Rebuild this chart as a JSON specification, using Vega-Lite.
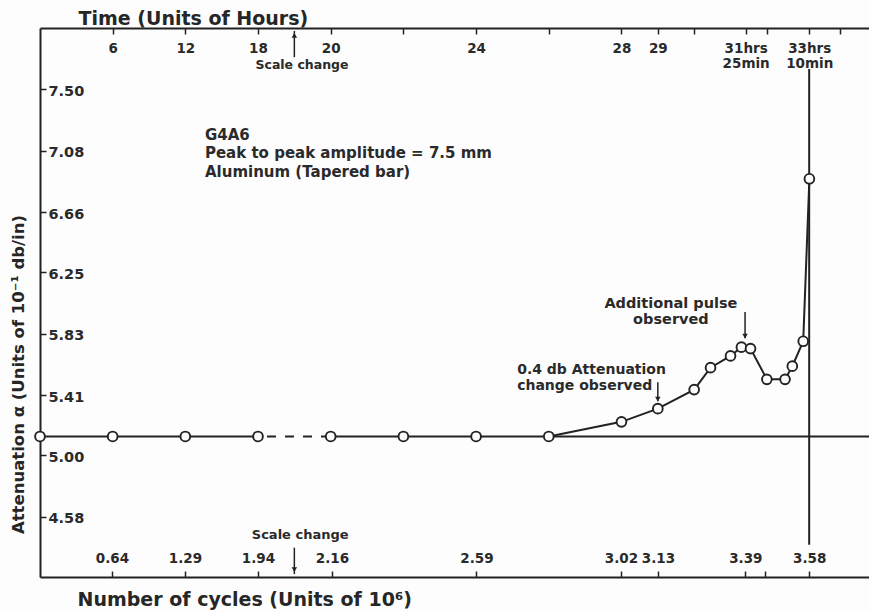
{
  "$schema": "https://vega.github.io/schema/vega-lite/v6.json",
  "width": 829,
  "height": 549,
  "autosize": {"type": "none"},
  "padding": {"left": 40, "top": 28, "right": 0, "bottom": 34},
  "background": "#fdfdfd",
  "config": {
    "view": {"stroke": null},
    "font": "DejaVu Sans",
    "axis": {
      "domainColor": "#222",
      "domainWidth": 2,
      "tickColor": "#222",
      "tickWidth": 1.5,
      "tickSize": -6,
      "labelColor": "#2a2a2a",
      "labelFont": "DejaVu Sans",
      "labelFontWeight": "bold",
      "labelFontSize": 14.5,
      "labelOverlap": false,
      "labelFlush": false,
      "labelBound": false,
      "grid": false,
      "titleColor": "#262626",
      "titleFont": "DejaVu Sans",
      "titleFontWeight": "bold"
    },
    "text": {"font": "DejaVu Sans", "fontWeight": "bold", "color": "#2a2a2a"}
  },
  "datasets": {
    "readings": [
      {"hours": 0, "att": 5.13},
      {"hours": 6, "att": 5.13},
      {"hours": 12, "att": 5.13},
      {"hours": 18, "att": 5.13},
      {"hours": 20, "att": 5.13},
      {"hours": 22, "att": 5.13},
      {"hours": 24, "att": 5.13},
      {"hours": 26, "att": 5.13},
      {"hours": 28, "att": 5.23},
      {"hours": 29, "att": 5.32},
      {"hours": 30, "att": 5.45},
      {"hours": 30.45, "att": 5.6},
      {"hours": 31.0, "att": 5.68},
      {"hours": 31.3, "att": 5.74},
      {"hours": 31.55, "att": 5.73},
      {"hours": 32.0, "att": 5.52},
      {"hours": 32.5, "att": 5.52},
      {"hours": 32.7, "att": 5.61},
      {"hours": 33.0, "att": 5.78},
      {"hours": 33.17, "att": 6.89}
    ]
  },
  "layer": [
    {
      "description": "Failure marker and the cycles axis (broken scale, same break as the time axis)",
      "data": {"values": [{}]},
      "mark": {"type": "rule", "color": "#222", "strokeWidth": 2},
      "encoding": {
        "x": {
          "datum": 3.58,
          "type": "quantitative",
          "scale": {"domain": [0, 1.94, 3.758], "range": [0, 218, 829], "nice": false, "zero": false},
          "axis": {
            "orient": "bottom",
            "values": [0.64, 1.29, 1.94, 2.16, 2.59, 3.02, 3.13, 3.39, 3.45, 3.58],
            "labelExpr": "datum.value == 3.45 ? '' : format(datum.value, '.2f')",
            "labelPadding": -13,
            "labelBaseline": "middle",
            "labelFontSize": 13.5,
            "title": "Number of cycles (Units of 10⁶)",
            "titleFontSize": 19,
            "titleAnchor": "start",
            "titleAlign": "left",
            "titleBaseline": "alphabetic",
            "titleX": 37,
            "titleY": 28
          }
        },
        "y": {"datum": 7.64, "type": "quantitative"},
        "y2": {"datum": 4.39}
      }
    },
    {
      "layer": [
        {
          "data": {"name": "readings"},
          "transform": [{"filter": "datum.hours <= 18"}],
          "mark": {"type": "line", "color": "#222", "strokeWidth": 2},
          "encoding": {
            "x": {
              "field": "hours",
              "type": "quantitative",
              "scale": {"domain": [0, 18, 34.81], "range": [0, 218, 829], "nice": false, "zero": false},
              "axis": {
                "orient": "top",
                "values": [6, 12, 18, 20, 22, 24, 26, 28, 29, 30, 31.4167, 32, 33.1667, 34],
                "labelExpr": "datum.value == 31.4167 ? ['31hrs', '25min'] : datum.value == 33.1667 ? ['33hrs', '10min'] : indexof([22, 26, 30, 32, 34], datum.value) >= 0 ? '' : datum.label",
                "labelPadding": -7,
                "labelBaseline": "top",
                "labelLineHeight": 15.5,
                "labelFontSize": 13.5,
                "title": "Time (Units of Hours)",
                "titleFontSize": 19,
                "titleAnchor": "start",
                "titleAlign": "left",
                "titleBaseline": "alphabetic",
                "titleX": 38,
                "titleY": -4
              }
            },
            "y": {
              "field": "att",
              "type": "quantitative",
              "scale": {"domain": [4.17, 7.92], "nice": false, "zero": false},
              "axis": {
                "orient": "left",
                "values": [4.58, 5.0, 5.41, 5.83, 6.25, 6.66, 7.08, 7.5],
                "format": ".2f",
                "labelAlign": "left",
                "labelBaseline": "middle",
                "labelPadding": -2,
                "labelOffset": 2,
                "labelFontSize": 14.5,
                "title": "Attenuation α (Units of 10⁻¹ db/in)",
                "titleFontSize": 16.5,
                "titleAngle": 270,
                "titleAlign": "center",
                "titleBaseline": "middle",
                "titleX": -22,
                "titleY": 346
              }
            }
          }
        },
        {
          "data": {"name": "readings"},
          "transform": [{"filter": "datum.hours >= 18 && datum.hours <= 20"}],
          "mark": {"type": "line", "color": "#222", "strokeWidth": 2, "strokeDash": [9, 9], "strokeDashOffset": 9},
          "encoding": {
            "x": {"field": "hours", "type": "quantitative"},
            "y": {"field": "att", "type": "quantitative"}
          }
        },
        {
          "data": {"name": "readings"},
          "transform": [{"filter": "datum.hours >= 20"}],
          "mark": {"type": "line", "color": "#222", "strokeWidth": 2},
          "encoding": {
            "x": {"field": "hours", "type": "quantitative"},
            "y": {"field": "att", "type": "quantitative"}
          }
        },
        {
          "description": "Reference level carried on past the departure of the curve",
          "data": {"values": [{}]},
          "mark": {"type": "rule", "color": "#222", "strokeWidth": 2},
          "encoding": {
            "x": {"datum": 26, "type": "quantitative"},
            "x2": {"datum": 34.81},
            "y": {"datum": 5.13, "type": "quantitative"}
          }
        },
        {
          "data": {"name": "readings"},
          "mark": {"type": "point", "shape": "circle", "filled": true, "fill": "#fdfdfd", "stroke": "#222", "strokeWidth": 1.9, "size": 95, "opacity": 1},
          "encoding": {
            "x": {"field": "hours", "type": "quantitative"},
            "y": {"field": "att", "type": "quantitative"}
          }
        },
        {
          "data": {"values": [{}]},
          "mark": {"type": "text", "text": ["G4A6", "Peak to peak amplitude = 7.5 mm", "Aluminum (Tapered bar)"], "align": "left", "baseline": "top", "fontSize": 15, "lineHeight": 18.5},
          "encoding": {
            "x": {"datum": 13.62, "type": "quantitative"},
            "y": {"datum": 7.24, "type": "quantitative"}
          }
        },
        {
          "data": {"values": [{}]},
          "mark": {"type": "text", "text": ["0.4 db Attenuation", "change observed"], "align": "left", "baseline": "top", "fontSize": 14, "lineHeight": 16},
          "encoding": {
            "x": {"datum": 25.13, "type": "quantitative"},
            "y": {"datum": 5.635, "type": "quantitative"}
          }
        },
        {
          "data": {"values": [{}]},
          "mark": {"type": "text", "text": ["Additional pulse", "observed"], "align": "center", "baseline": "top", "fontSize": 14.5, "lineHeight": 16},
          "encoding": {
            "x": {"datum": 29.36, "type": "quantitative"},
            "y": {"datum": 6.08, "type": "quantitative"}
          }
        },
        {
          "data": {"values": [{}]},
          "mark": {"type": "text", "text": "Scale change", "align": "center", "baseline": "middle", "fontSize": 12.5},
          "encoding": {
            "x": {"datum": 19.21, "type": "quantitative"},
            "y": {"datum": 7.665, "type": "quantitative"}
          }
        },
        {
          "data": {"values": [{}]},
          "mark": {"type": "text", "text": "Scale change", "align": "center", "baseline": "middle", "fontSize": 13},
          "encoding": {
            "x": {"datum": 19.16, "type": "quantitative"},
            "y": {"datum": 4.456, "type": "quantitative"}
          }
        },
        {
          "data": {"values": [{}]},
          "mark": {"type": "rule", "color": "#222", "strokeWidth": 1.5},
          "encoding": {
            "x": {"datum": 19.0, "type": "quantitative"},
            "y": {"datum": 7.9, "type": "quantitative"},
            "y2": {"datum": 7.72}
          }
        },
        {
          "data": {"values": [{}]},
          "mark": {"type": "point", "shape": "triangle-up", "filled": true, "color": "#222", "size": 30, "opacity": 1},
          "encoding": {
            "x": {"datum": 19.0, "type": "quantitative"},
            "y": {"datum": 7.87, "type": "quantitative"}
          }
        },
        {
          "data": {"values": [{}]},
          "mark": {"type": "rule", "color": "#222", "strokeWidth": 1.5},
          "encoding": {
            "x": {"datum": 19.0, "type": "quantitative"},
            "y": {"datum": 4.37, "type": "quantitative"},
            "y2": {"datum": 4.19}
          }
        },
        {
          "data": {"values": [{}]},
          "mark": {"type": "point", "shape": "triangle-down", "filled": true, "color": "#222", "size": 30, "opacity": 1},
          "encoding": {
            "x": {"datum": 19.0, "type": "quantitative"},
            "y": {"datum": 4.22, "type": "quantitative"}
          }
        },
        {
          "data": {"values": [{}]},
          "mark": {"type": "rule", "color": "#222", "strokeWidth": 1.5},
          "encoding": {
            "x": {"datum": 29.0, "type": "quantitative"},
            "y": {"datum": 5.5, "type": "quantitative"},
            "y2": {"datum": 5.37}
          }
        },
        {
          "data": {"values": [{}]},
          "mark": {"type": "point", "shape": "triangle-down", "filled": true, "color": "#222", "size": 30, "opacity": 1},
          "encoding": {
            "x": {"datum": 29.0, "type": "quantitative"},
            "y": {"datum": 5.385, "type": "quantitative"}
          }
        },
        {
          "data": {"values": [{}]},
          "mark": {"type": "rule", "color": "#222", "strokeWidth": 1.5},
          "encoding": {
            "x": {"datum": 31.4, "type": "quantitative"},
            "y": {"datum": 5.98, "type": "quantitative"},
            "y2": {"datum": 5.8}
          }
        },
        {
          "data": {"values": [{}]},
          "mark": {"type": "point", "shape": "triangle-down", "filled": true, "color": "#222", "size": 30, "opacity": 1},
          "encoding": {
            "x": {"datum": 31.4, "type": "quantitative"},
            "y": {"datum": 5.815, "type": "quantitative"}
          }
        }
      ]
    }
  ],
  "resolve": {"scale": {"x": "independent"}}
}
